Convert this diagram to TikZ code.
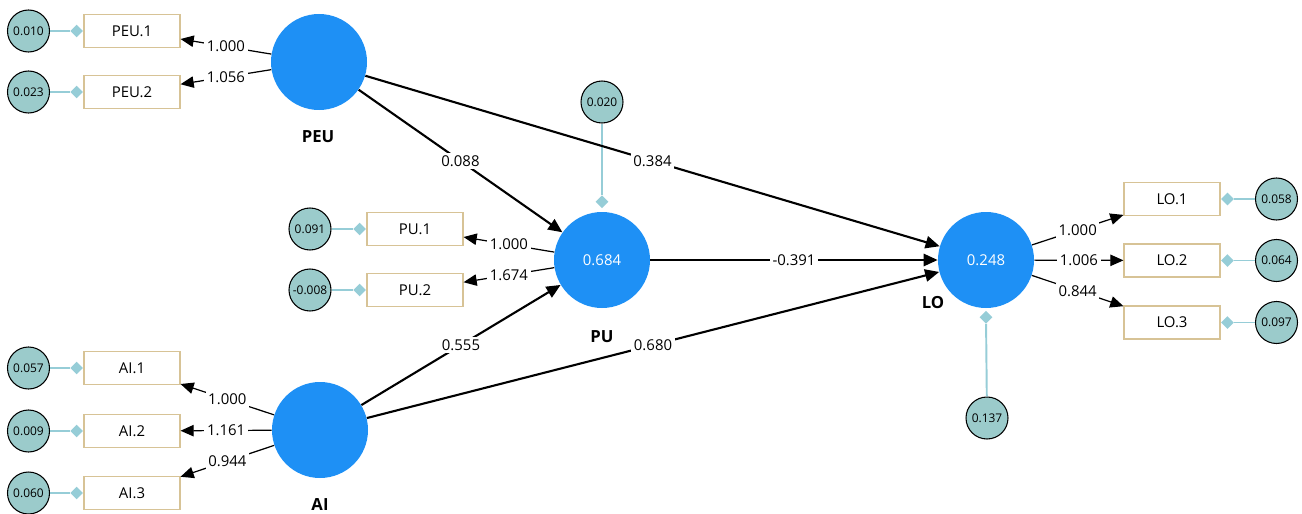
\documentclass[tikz,border=0pt]{standalone}
\usepackage{fontspec}
\setmainfont{Open Sans}
\usetikzlibrary{positioning,arrows.meta,shapes.geometric}
\definecolor{constructBlue}{RGB}{30,144,245}
\definecolor{errTeal}{RGB}{155,203,203}
\definecolor{boxTan}{RGB}{215,195,150}
\definecolor{linkBlue}{RGB}{150,205,215}

\begin{document}
\begin{tikzpicture}[
        construct/.style={
            circle,
            fill=constructBlue,
            minimum size=1.92cm,
            inner sep=0pt,
            text=white,
            font=\fontsize{8.5}{10}\selectfont
        },
        constructName/.style={
            font=\fontsize{9.5}{11}\selectfont\bfseries
        },
        indicator/.style={
            rectangle,
            draw=boxTan,
            line width=0.6pt,
            fill=white,
            minimum width=1.92cm,
            minimum height=0.66cm,
            inner sep=0pt,
            font=\fontsize{8.5}{10}\selectfont
        },
        errCircle/.style={
            circle,
            draw,
            line width=0.6pt,
            fill=errTeal,
            minimum size=0.84cm,
            inner sep=0pt,
            font=\fontsize{6.8}{8}\selectfont
        },
        errMark/.style={
            diamond,
            fill=linkBlue,
            minimum size=0.26cm,
            inner sep=0pt
        },
        errLine/.style={
            draw=linkBlue,
            line width=0.6pt
        },
        loading/.style={
            line width=0.7pt,
            -{Triangle[length=7.5pt,width=6.5pt]}
        },
        structural/.style={
            line width=1.2pt,
            -{Triangle[length=8pt,width=7pt]}
        },
        coef/.style={
            fill=white,
            inner sep=1.5pt,
            font=\fontsize{8.5}{10}\selectfont
        }
    ]

        \useasboundingbox (0,0) rectangle (26.04,-10.28);

        \node[construct] (peu) at (6.38,-1.24) {};
        \node[construct] (pu) at (12.04,-5.20) {0.684};
        \node[construct] (ai) at (6.40,-8.60) {};
        \node[construct] (lo) at (19.72,-5.20) {0.248};

        \node[constructName] (peuName) at (6.36,-2.74) {PEU};
        \node[constructName] (puName) at (12.04,-6.74) {PU};
        \node[constructName] (aiName) at (6.40,-10.10) {AI};
        \node[constructName] (loName) at (18.66,-6.06) {LO};

        \foreach \id/\txt/\x/\y/\ex/\val in {
            peuA/PEU.1/2.64/-0.62/0.57/0.010,
            peuB/PEU.2/2.64/-1.84/0.57/0.023,
            puA/PU.1/8.30/-4.58/6.20/0.091,
            puB/PU.2/8.30/-5.80/6.20/-0.008,
            aiA/AI.1/2.64/-7.36/0.57/0.057,
            aiB/AI.2/2.64/-8.62/0.57/0.009,
            aiC/AI.3/2.64/-9.86/0.57/0.060} {
            \node[indicator] (\id) at (\x,\y) {\txt};
            \node[errMark, left=0pt of \id] (\id M) {};
            \node[errCircle] (\id E) at (\ex,\y) {\val};
            \draw[errLine] (\id E) -- (\id M);
        }

        \foreach \id/\txt/\y/\val in {
            loA/LO.1/-3.98/0.058,
            loB/LO.2/-5.21/0.064,
            loC/LO.3/-6.45/0.097} {
            \node[indicator] (\id) at (23.44,\y) {\txt};
            \node[errMark, right=0pt of \id] (\id M) {};
            \node[errCircle] (\id E) at (25.53,\y) {\val};
            \draw[errLine] (\id E) -- (\id M);
        }

        \node[errCircle] (puE) at (12.04,-2.04) {0.020};
        \node[errMark, above=0.06cm of pu] (puM) {};
        \draw[errLine, line width=1.1pt] (puE) -- (puM);

        \node[errCircle] (loE) at (19.74,-8.36) {0.137};
        \node[errMark, below=0.04cm of lo] (loM) {};
        \draw[errLine, line width=1.1pt] (loE) -- (loM);

        \draw[loading] (peu) -- node[coef] {1.000} (peuA);
        \draw[loading] (peu) -- node[coef] {1.056} (peuB);
        \draw[loading] (pu) -- node[coef] {1.000} (puA);
        \draw[loading] (pu) -- node[coef] {1.674} (puB);
        \draw[loading] (ai) -- node[coef] {1.000} (aiA);
        \draw[loading] (ai) -- node[coef] {1.161} (aiB);
        \draw[loading] (ai) -- node[coef] {0.944} (aiC);
        \draw[loading] (lo) -- node[coef] {1.000} (loA);
        \draw[loading] (lo) -- node[coef] {1.006} (loB);
        \draw[loading] (lo) -- node[coef] {0.844} (loC);

        \draw[structural] (peu) -- node[coef] {0.088} (pu);
        \draw[structural] (peu) -- node[coef] {0.384} (lo);
        \draw[structural] (pu) -- node[coef] {-0.391} (lo);
        \draw[structural] (ai) -- node[coef] {0.555} (pu);
        \draw[structural] (ai) -- node[coef] {0.680} (lo);

    \end{tikzpicture}
\end{document}
